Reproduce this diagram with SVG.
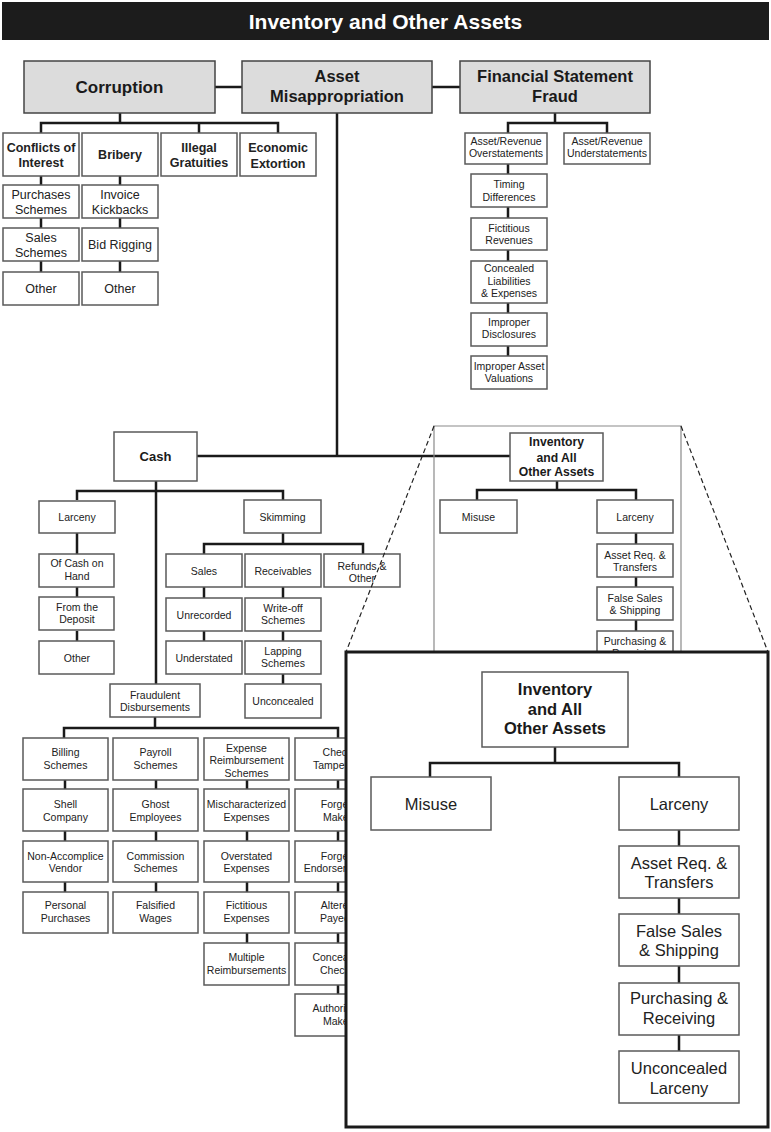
<svg xmlns="http://www.w3.org/2000/svg" width="771" height="1132" viewBox="0 0 771 1132">
<style>
.bx{fill:#fff;stroke:#5a5a5a;stroke-width:1.5}
.gb{fill:#dcdcdc;stroke:#444;stroke-width:1.5}
.ln{fill:none;stroke:#1a1a1a;stroke-width:2.5}
.t{font-family:"Liberation Sans",Arial,sans-serif;font-size:10.5px;text-anchor:middle;fill:#222}
.m{font-size:12.5px}
.mb{font-size:12.5px;font-weight:bold}
.big{font-size:16.5px;font-weight:bold;fill:#1a1a1a}
.ib{font-size:16.5px;font-weight:bold;fill:#1a1a1a}
.il{font-size:16.5px}
.sb{font-size:12.2px;font-weight:bold;fill:#1a1a1a}
.frame{fill:none;stroke:#8a8a8a;stroke-width:1.2}
.dash{fill:none;stroke:#222;stroke-width:1.2;stroke-dasharray:5 3}
</style>
<rect x="2" y="2" width="767" height="38" fill="#1c1c1c"/>
<text class="t" x="385.5" y="28.5" style="font-size:21px;font-weight:bold;fill:#fff">Inventory and Other Assets</text>

<g id="connectors">
<path class="ln" d="M215,87H242M432,87H460"/>
<path class="ln" d="M120,113V123M41,133V123H278V133M199,123V133"/>
<path class="ln" d="M41,176V185M41,218V228M41,261V272M120,176V185M120,218V228M120,261V272"/>
<path class="ln" d="M555,113V123M508,133V123H607V133"/>
<path class="ln" d="M508,164V174M508,207V218M508,250V261M508,303V313M508,346V356"/>
<path class="ln" d="M337,113V456M197,456H510"/>
<path class="ln" d="M557,481V490M477,500V490H636V500M636,533V544M636,577V587M636,620V631"/>
<path class="ln" d="M156,481V684M77,500V491H283V500"/>
<path class="ln" d="M77,533V554M77,587V597M77,631V641"/>
<path class="ln" d="M283,533V544M204,554V544H363V554M204,587V598M204,631V641M283,587V598M283,631V641M283,674V684"/>
<path class="ln" d="M155,717V728M64,738V728H338V738"/>
<path class="ln" d="M65,780V789M65,831V841M65,882V892M156,780V789M156,831V841M156,882V892M247,780V789M247,831V841M247,882V892M247,933V943M338,780V789M338,831V841M338,882V892M338,933V943M338,985V994"/>
</g>

<g id="corruption"><rect class="gb" x="24" y="61" width="191" height="52"/><text class="t big" x="119.5" y="93" style="font-size:17px">Corruption</text></g>
<g id="asset-misappropriation"><rect class="gb" x="242" y="61" width="190" height="52"/><text class="t big" x="337" y="82">Asset</text><text class="t big" x="337" y="102">Misappropriation</text></g>
<g id="fs-fraud"><rect class="gb" x="460" y="61" width="190" height="52"/><text class="t big" x="555" y="82">Financial Statement</text><text class="t big" x="555" y="102">Fraud</text></g>

<g id="conflicts"><rect class="bx" x="3" y="133" width="76" height="43"/><text class="t mb" x="41" y="151.5">Conflicts of</text><text class="t mb" x="41" y="166.5">Interest</text></g>
<g id="bribery"><rect class="bx" x="82" y="133" width="76" height="43"/><text class="t mb" x="120" y="159">Bribery</text></g>
<g id="gratuities"><rect class="bx" x="161" y="133" width="76" height="43"/><text class="t mb" x="199" y="151.5">Illegal</text><text class="t mb" x="199" y="166.5">Gratuities</text></g>
<g id="extortion"><rect class="bx" x="240" y="133" width="76" height="43"/><text class="t mb" x="278" y="152">Economic</text><text class="t mb" x="278" y="168">Extortion</text></g>

<g id="purchases-schemes"><rect class="bx" x="3" y="185" width="76" height="33"/><text class="t m" x="41" y="198.5">Purchases</text><text class="t m" x="41" y="213.5">Schemes</text></g>
<g id="sales-schemes"><rect class="bx" x="3" y="228" width="76" height="33"/><text class="t m" x="41" y="241.5">Sales</text><text class="t m" x="41" y="256.5">Schemes</text></g>
<g id="conflicts-other"><rect class="bx" x="3" y="272" width="76" height="33"/><text class="t m" x="41" y="292.5">Other</text></g>
<g id="invoice-kickbacks"><rect class="bx" x="82" y="185" width="76" height="33"/><text class="t m" x="120" y="198.5">Invoice</text><text class="t m" x="120" y="213.5">Kickbacks</text></g>
<g id="bid-rigging"><rect class="bx" x="82" y="228" width="76" height="33"/><text class="t m" x="120" y="249">Bid Rigging</text></g>
<g id="bribery-other"><rect class="bx" x="82" y="272" width="76" height="33"/><text class="t m" x="120" y="292.5">Other</text></g>

<g id="overstatements"><rect class="bx" x="465" y="133" width="82" height="31"/><text class="t" x="506" y="144.8">Asset/Revenue</text><text class="t" x="506" y="157.2">Overstatements</text></g>
<g id="understatements"><rect class="bx" x="564" y="133" width="86" height="31"/><text class="t" x="607" y="144.8">Asset/Revenue</text><text class="t" x="607" y="157.2">Understatements</text></g>
<g id="timing"><rect class="bx" x="471" y="174" width="76" height="33"/><text class="t" x="509" y="188">Timing</text><text class="t" x="509" y="200.5">Differences</text></g>
<g id="fictitious-revenues"><rect class="bx" x="471" y="218" width="76" height="32"/><text class="t" x="509" y="231.5">Fictitious</text><text class="t" x="509" y="243.8">Revenues</text></g>
<g id="concealed-liabilities"><rect class="bx" x="471" y="261" width="76" height="42"/><text class="t" x="509" y="272">Concealed</text><text class="t" x="509" y="284.5">Liabilities</text><text class="t" x="509" y="297">&amp; Expenses</text></g>
<g id="improper-disclosures"><rect class="bx" x="471" y="313" width="76" height="33"/><text class="t" x="509" y="326">Improper</text><text class="t" x="509" y="338">Disclosures</text></g>
<g id="improper-valuations"><rect class="bx" x="471" y="356" width="76" height="33"/><text class="t" x="509" y="369.8">Improper Asset</text><text class="t" x="509" y="381.5">Valuations</text></g>

<g id="cash"><rect class="bx" x="114" y="432" width="83" height="49"/><text class="t" x="155.5" y="461" style="font-size:13px;font-weight:bold;fill:#1a1a1a">Cash</text></g>

<g id="cash-larceny"><rect class="bx" x="39" y="501" width="76" height="32"/><text class="t" x="77" y="521">Larceny</text></g>
<g id="cash-on-hand"><rect class="bx" x="39" y="554" width="75" height="33"/><text class="t" x="77" y="567.2">Of Cash on</text><text class="t" x="77" y="579.8">Hand</text></g>
<g id="from-deposit"><rect class="bx" x="39" y="597" width="75" height="33"/><text class="t" x="77" y="611">From the</text><text class="t" x="77" y="623">Deposit</text></g>
<g id="larceny-other"><rect class="bx" x="39" y="641" width="75" height="33"/><text class="t" x="77" y="661.5">Other</text></g>

<g id="skimming"><rect class="bx" x="244" y="500" width="77" height="33"/><text class="t" x="282.5" y="520.5">Skimming</text></g>
<g id="sales"><rect class="bx" x="166" y="554" width="76" height="33"/><text class="t" x="204" y="574.5">Sales</text></g>
<g id="receivables"><rect class="bx" x="245" y="554" width="76" height="33"/><text class="t" x="283" y="574.5">Receivables</text></g>
<g id="refunds"><rect class="bx" x="324" y="554" width="76" height="33"/><text class="t" x="362" y="569.8">Refunds &amp;</text><text class="t" x="362" y="581.5">Other</text></g>
<g id="unrecorded"><rect class="bx" x="166" y="598" width="76" height="33"/><text class="t" x="204" y="618.5">Unrecorded</text></g>
<g id="understated"><rect class="bx" x="166" y="641" width="76" height="33"/><text class="t" x="204" y="661.5">Understated</text></g>
<g id="write-off"><rect class="bx" x="245" y="598" width="76" height="33"/><text class="t" x="283" y="611.5">Write-off</text><text class="t" x="283" y="623.8">Schemes</text></g>
<g id="lapping"><rect class="bx" x="245" y="641" width="76" height="33"/><text class="t" x="283" y="654.5">Lapping</text><text class="t" x="283" y="667">Schemes</text></g>
<g id="unconcealed"><rect class="bx" x="245" y="684" width="76" height="34"/><text class="t" x="283" y="705">Unconcealed</text></g>

<g id="fraudulent-disbursements"><rect class="bx" x="110" y="684" width="90" height="33"/><text class="t" x="155" y="698.8">Fraudulent</text><text class="t" x="155" y="710.5">Disbursements</text></g>

<g id="billing"><rect class="bx" x="23" y="738" width="85" height="42"/><text class="t" x="65.5" y="756">Billing</text><text class="t" x="65.5" y="768.8">Schemes</text></g>
<g id="shell"><rect class="bx" x="23" y="789" width="85" height="42"/><text class="t" x="65.5" y="807.8">Shell</text><text class="t" x="65.5" y="820.5">Company</text></g>
<g id="non-accomplice"><rect class="bx" x="23" y="841" width="85" height="41"/><text class="t" x="65.5" y="859.5">Non-Accomplice</text><text class="t" x="65.5" y="872">Vendor</text></g>
<g id="personal"><rect class="bx" x="23" y="892" width="85" height="41"/><text class="t" x="65.5" y="908.8">Personal</text><text class="t" x="65.5" y="922">Purchases</text></g>

<g id="payroll"><rect class="bx" x="113" y="738" width="85" height="42"/><text class="t" x="155.5" y="756">Payroll</text><text class="t" x="155.5" y="768.8">Schemes</text></g>
<g id="ghost"><rect class="bx" x="113" y="789" width="85" height="42"/><text class="t" x="155.5" y="807.8">Ghost</text><text class="t" x="155.5" y="820.5">Employees</text></g>
<g id="commission"><rect class="bx" x="113" y="841" width="85" height="41"/><text class="t" x="155.5" y="859.5">Commission</text><text class="t" x="155.5" y="872">Schemes</text></g>
<g id="falsified"><rect class="bx" x="113" y="892" width="85" height="41"/><text class="t" x="155.5" y="908.8">Falsified</text><text class="t" x="155.5" y="922">Wages</text></g>

<g id="expense"><rect class="bx" x="204" y="738" width="85" height="42"/><text class="t" x="246.5" y="752">Expense</text><text class="t" x="246.5" y="764">Reimbursement</text><text class="t" x="246.5" y="776.5">Schemes</text></g>
<g id="mischaracterized"><rect class="bx" x="204" y="789" width="85" height="42"/><text class="t" x="246.5" y="807.8">Mischaracterized</text><text class="t" x="246.5" y="820.5">Expenses</text></g>
<g id="overstated"><rect class="bx" x="204" y="841" width="85" height="41"/><text class="t" x="246.5" y="859.5">Overstated</text><text class="t" x="246.5" y="872">Expenses</text></g>
<g id="fictitious-expenses"><rect class="bx" x="204" y="892" width="85" height="41"/><text class="t" x="246.5" y="908.8">Fictitious</text><text class="t" x="246.5" y="922">Expenses</text></g>
<g id="multiple"><rect class="bx" x="204" y="943" width="85" height="42"/><text class="t" x="246.5" y="961">Multiple</text><text class="t" x="246.5" y="973.8">Reimbursements</text></g>

<g id="check-tampering"><rect class="bx" x="295" y="738" width="85" height="42"/><text class="t" x="337.5" y="756">Check</text><text class="t" x="337.5" y="768.8">Tampering</text></g>
<g id="forged-maker"><rect class="bx" x="295" y="789" width="85" height="42"/><text class="t" x="337.5" y="807.8">Forged</text><text class="t" x="337.5" y="820.5">Maker</text></g>
<g id="forged-endorsements"><rect class="bx" x="295" y="841" width="85" height="41"/><text class="t" x="337.5" y="859.5">Forged</text><text class="t" x="337.5" y="872">Endorsements</text></g>
<g id="altered-payees"><rect class="bx" x="295" y="892" width="85" height="41"/><text class="t" x="337.5" y="908.8">Altered</text><text class="t" x="337.5" y="922">Payees</text></g>
<g id="concealed-checks"><rect class="bx" x="295" y="943" width="85" height="42"/><text class="t" x="337.5" y="961">Concealed</text><text class="t" x="337.5" y="973.8">Checks</text></g>
<g id="authorized-maker"><rect class="bx" x="295" y="994" width="85" height="42"/><text class="t" x="337.5" y="1012">Authorized</text><text class="t" x="337.5" y="1025.3">Maker</text></g>

<g id="zoom-frame"><path class="frame" d="M434,652V426H681V652"/></g>

<g id="inventory-small"><rect class="bx" x="510" y="433" width="93" height="48"/><text class="t sb" x="556.5" y="446">Inventory</text><text class="t sb" x="556.5" y="461.5">and All</text><text class="t sb" x="556.5" y="476">Other Assets</text></g>
<g id="misuse-small"><rect class="bx" x="440" y="500" width="77" height="33"/><text class="t" x="478.5" y="520.5">Misuse</text></g>
<g id="larceny-small"><rect class="bx" x="597" y="500" width="76" height="33"/><text class="t" x="635" y="520.5">Larceny</text></g>
<g id="asset-req-small"><rect class="bx" x="597" y="544" width="76" height="33"/><text class="t" x="635" y="558.8">Asset Req. &amp;</text><text class="t" x="635" y="570.5">Transfers</text></g>
<g id="false-sales-small"><rect class="bx" x="597" y="587" width="76" height="33"/><text class="t" x="635" y="601.5">False Sales</text><text class="t" x="635" y="613.8">&amp; Shipping</text></g>
<g id="purchasing-small"><rect class="bx" x="597" y="631" width="76" height="33"/><text class="t" x="635" y="644.5">Purchasing &amp;</text><text class="t" x="635" y="657">Receiving</text></g>

<g id="inset">
<rect x="346" y="652" width="422" height="475" fill="#fff" stroke="#1a1a1a" stroke-width="3"/>
<path class="ln" d="M555,747V763M430,777V763H679V777M679,830V846M679,898V914M679,966V983M679,1035V1051"/>
<g id="inset-inventory"><rect class="bx" x="482" y="672" width="146" height="75"/><text class="t ib" x="555" y="695.3">Inventory</text><text class="t ib" x="555" y="715">and All</text><text class="t ib" x="555" y="734.3">Other Assets</text></g>
<g id="inset-misuse"><rect class="bx" x="371" y="777" width="120" height="53"/><text class="t il" x="431" y="810">Misuse</text></g>
<g id="inset-larceny"><rect class="bx" x="619" y="777" width="120" height="53"/><text class="t il" x="679" y="810">Larceny</text></g>
<g id="inset-asset-req"><rect class="bx" x="619" y="846" width="120" height="52"/><text class="t il" x="679" y="868.6">Asset Req. &amp;</text><text class="t il" x="679" y="888.2">Transfers</text></g>
<g id="inset-false-sales"><rect class="bx" x="619" y="914" width="120" height="52"/><text class="t il" x="679" y="936.6">False Sales</text><text class="t il" x="679" y="956">&amp; Shipping</text></g>
<g id="inset-purchasing"><rect class="bx" x="619" y="983" width="120" height="52"/><text class="t il" x="679" y="1004.3">Purchasing &amp;</text><text class="t il" x="679" y="1024.3">Receiving</text></g>
<g id="inset-unconcealed"><rect class="bx" x="619" y="1051" width="120" height="52"/><text class="t il" x="679" y="1073.6">Unconcealed</text><text class="t il" x="679" y="1093.6">Larceny</text></g>
</g>

<g id="zoom-lines"><path class="dash" d="M434,426L346,652M681,426L768,652"/></g>
</svg>
